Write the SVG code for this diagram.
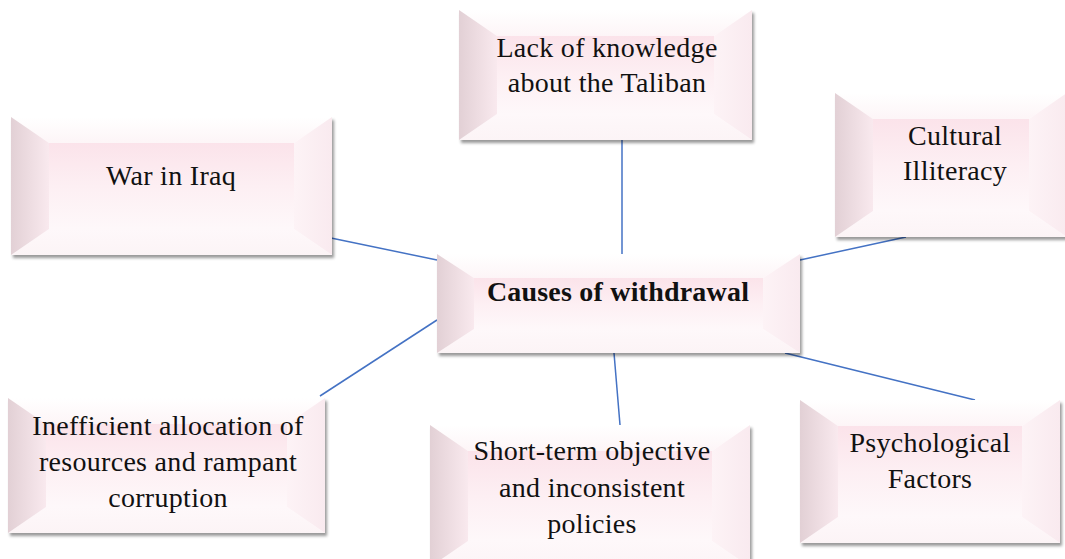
<svg xmlns="http://www.w3.org/2000/svg" width="1065" height="559" viewBox="0 0 1065 559">
<style>
.ln{stroke:#4472c4;stroke-width:1.5;fill:none}
.face{fill:url(#gFace)}
.bl{fill:url(#gLeft)}
.br{fill:url(#gRight)}
.bt{fill:url(#gTop)}
.bb{fill:url(#gBot)}
.base{fill:#fff;filter:url(#sh)}
.t{font-family:"Liberation Serif","Times New Roman",serif;font-size:28px;letter-spacing:0.3px;fill:#111;text-anchor:middle}
.tb{font-weight:bold;font-size:28px;letter-spacing:0.2px}
</style>
<defs>
<filter id="sh" x="-5%" y="-5%" width="115%" height="120%">
<feDropShadow dx="2" dy="3" stdDeviation="1.8" flood-color="#000" flood-opacity="0.4"/>
</filter>
<linearGradient id="gFace" x1="0" y1="0" x2="0" y2="1">
<stop offset="0" stop-color="#fbe3ea"/>
<stop offset="0.5" stop-color="#fdeff3"/>
<stop offset="1" stop-color="#fef8fa"/>
</linearGradient>
<linearGradient id="gLeft" x1="0" y1="0" x2="1" y2="0">
<stop offset="0" stop-color="#e2d0d5"/>
<stop offset="1" stop-color="#f9e9ee"/>
</linearGradient>
<linearGradient id="gRight" x1="0" y1="0" x2="1" y2="0">
<stop offset="0" stop-color="#fdf3f6"/>
<stop offset="1" stop-color="#f9eaef"/>
</linearGradient>
<linearGradient id="gTop" x1="0" y1="0" x2="0" y2="1">
<stop offset="0" stop-color="#ffffff"/>
<stop offset="1" stop-color="#fdf5f7"/>
</linearGradient>
<linearGradient id="gBot" x1="0" y1="0" x2="0" y2="1">
<stop offset="0" stop-color="#fef8fa"/>
<stop offset="1" stop-color="#fcf4f6"/>
</linearGradient>
</defs>
<rect width="1065" height="559" fill="#fff"/>
<g id="connectors">
<line class="ln" x1="622" y1="140" x2="622" y2="254"/>
<line class="ln" x1="331" y1="238" x2="437" y2="260"/>
<line class="ln" x1="800" y1="260" x2="906" y2="237"/>
<line class="ln" x1="320" y1="396" x2="437" y2="320"/>
<line class="ln" x1="614" y1="353" x2="620" y2="425"/>
<line class="ln" x1="785" y1="353" x2="975" y2="400"/>
</g>
<g id="lack">
<rect class="base" x="459" y="10" width="293" height="130"/>
<rect class="face" x="497" y="36" width="217" height="78"/>
<polygon class="bt" points="459,10 752,10 714,36 497,36"/>
<polygon class="bb" points="459,140 752,140 714,114 497,114"/>
<polygon class="bl" points="459,10 497,36 497,114 459,140"/>
<polygon class="br" points="752,10 714,36 714,114 752,140"/>
<text class="t" x="607" y="57">Lack of knowledge</text>
<text class="t" x="607" y="92">about the Taliban</text>
</g>
<g id="war">
<rect class="base" x="11" y="117" width="321" height="138"/>
<rect class="face" x="49" y="143" width="245" height="86"/>
<polygon class="bt" points="11,117 332,117 294,143 49,143"/>
<polygon class="bb" points="11,255 332,255 294,229 49,229"/>
<polygon class="bl" points="11,117 49,143 49,229 11,255"/>
<polygon class="br" points="332,117 294,143 294,229 332,255"/>
<text class="t" x="171" y="185">War in Iraq</text>
</g>
<g id="cultural">
<rect class="base" x="835" y="93" width="232" height="144"/>
<rect class="face" x="873" y="119" width="156" height="92"/>
<polygon class="bt" points="835,93 1067,93 1029,119 873,119"/>
<polygon class="bb" points="835,237 1067,237 1029,211 873,211"/>
<polygon class="bl" points="835,93 873,119 873,211 835,237"/>
<polygon class="br" points="1067,93 1029,119 1029,211 1067,237"/>
<text class="t" x="955" y="145">Cultural</text>
<text class="t" x="955" y="180">Illiteracy</text>
</g>
<g id="center">
<rect class="base" x="437" y="254" width="363" height="99"/>
<rect class="face" x="474" y="278" width="289" height="51"/>
<polygon class="bt" points="437,254 800,254 763,278 474,278"/>
<polygon class="bb" points="437,353 800,353 763,329 474,329"/>
<polygon class="bl" points="437,254 474,278 474,329 437,353"/>
<polygon class="br" points="800,254 763,278 763,329 800,353"/>
<text class="t tb" x="618" y="301">Causes of withdrawal</text>
</g>
<g id="inefficient">
<rect class="base" x="8" y="398" width="317" height="135"/>
<rect class="face" x="46" y="424" width="241" height="83"/>
<polygon class="bt" points="8,398 325,398 287,424 46,424"/>
<polygon class="bb" points="8,533 325,533 287,507 46,507"/>
<polygon class="bl" points="8,398 46,424 46,507 8,533"/>
<polygon class="br" points="325,398 287,424 287,507 325,533"/>
<text class="t" x="168" y="435">Inefficient allocation of</text>
<text class="t" x="168" y="471">resources and rampant</text>
<text class="t" x="168" y="507">corruption</text>
</g>
<g id="shortterm">
<rect class="base" x="430" y="425" width="320" height="142"/>
<rect class="face" x="468" y="451" width="244" height="90"/>
<polygon class="bt" points="430,425 750,425 712,451 468,451"/>
<polygon class="bb" points="430,567 750,567 712,541 468,541"/>
<polygon class="bl" points="430,425 468,451 468,541 430,567"/>
<polygon class="br" points="750,425 712,451 712,541 750,567"/>
<text class="t" x="592" y="460">Short-term objective</text>
<text class="t" x="592" y="497">and inconsistent</text>
<text class="t" x="592" y="533">policies</text>
</g>
<g id="psych">
<rect class="base" x="800" y="400" width="260" height="143"/>
<rect class="face" x="838" y="426" width="184" height="91"/>
<polygon class="bt" points="800,400 1060,400 1022,426 838,426"/>
<polygon class="bb" points="800,543 1060,543 1022,517 838,517"/>
<polygon class="bl" points="800,400 838,426 838,517 800,543"/>
<polygon class="br" points="1060,400 1022,426 1022,517 1060,543"/>
<text class="t" x="930" y="452">Psychological</text>
<text class="t" x="930" y="488">Factors</text>
</g>
</svg>
